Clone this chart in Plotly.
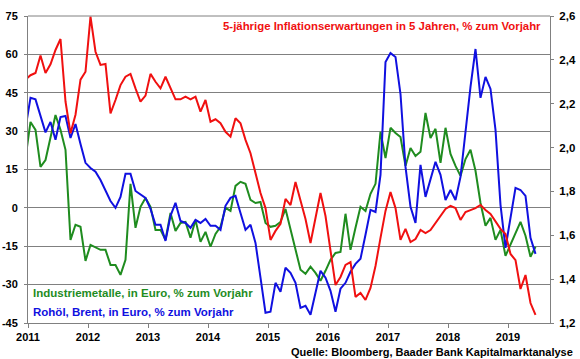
import plotly.graph_objects as go

# Monthly data, Dec 2010 .. Jun 2019 (first point is clipped by the axis start)
start_year = 2010
start_month = 12

metals = [19.5, 33.6, 30.5, 16, 18.7, 27.3, 36.3, 30.5, 22.7, -12.5, -6.6, -7.4, -20.7,
          -14.5, -15.6, -16.4, -16.4, -22.3, -22.3, -26.2, -20.3, 9.4, -7.8, 0.4, 3.9,
          0.4, -8.6, -8.6, -12.5, -2, -9, -5.9, -5.5, -11.7, -4.7, -13.3, -9.4,
          -15.2, -10.2, -7.4, 0, -1.2, 8.6, 10.2, 9.4, 3.1, 1.9, 2.3, -5.9,
          -7.4, -7, -5.5, -0.4, -8.6, -16.4, -24.2, -25.8, -23, -25.4, -28.5, -24.6,
          -20.3, -17.6, -17.2, -2.3, -16.4, -7.8, 0.4, -1.2, 5.5, 9.4, 29.7, 19.5,
          31.3, 29.3, 27.7, 16.4, 23.4, 20.3, 21.9, 37.1, 27.3, 30.9, 17.6, 31.3,
          21.1, 16.4, 12.5, 19.1, 22.7, 14.5, 1.9, -7, -3.9, -12.5, -8.6, -18.75,
          -14.5, -9.8, -5.5, -10.9, -19.1, -15.2]

brent = [31.3, 43.0, 42.4, 35.9, 29.5, 33.6, 26.6, 35.5, 35.9, 27.3, 32.8, 25, 17.6,
         15.6, 14.1, 10.9, 7, 2.7, 0, 4.3, 13.3, 13.3, 6.6, 5.1, 3.9,
         -0.4, -6.6, -6.6, -12.9, -3.1, 2, -5.1, -5.9, -7.8, -4.7, -5.9, -4.3,
         -7, -7, -8.6, 0.8, 3.9, 4.7, -2, -8.6, -6.6, -13.7, -27.3, -41,
         -40.6, -29.3, -32.8, -23.4, -25.4, -29.3, -39.1, -38.3, -41.8, -32.8, -24.6, -27.3,
         -32.4, -40.6, -31.6, -29.3, -25, -21.9, -19.9, -10.5, -0.8, -1.6, 12.9, 57,
         60.5, 59, 44.5, 16, 0.4, -5.9, 16.8, 4.3, 11.7, 18, 12.9, 3.1,
         7, 3.1, 12.1, 30.5, 47.3, 62.1, 43, 51.2, 46.5, 30.5, 1.2, -15.6,
         -4.7, 7.8, 7, 4.7, -11.7, -18]

inflation = [2.31, 2.33, 2.34, 2.42, 2.34, 2.38, 2.445, 2.495, 2.21, 2.065, 2.15, 2.31, 2.346,
             2.597, 2.437, 2.377, 2.381, 2.156, 2.217, 2.285, 2.323, 2.336, 2.27, 2.209, 2.237,
             2.336, 2.30, 2.27, 2.323, 2.27, 2.22, 2.22, 2.232, 2.22, 2.232, 2.164, 2.217,
             2.118, 2.129, 2.111, 2.072, 2.05, 2.134, 2.111, 2.035, 1.974, 1.883, 1.793, 1.724,
             1.579, 1.62, 1.652, 1.766, 1.738, 1.843, 1.756, 1.674, 1.565, 1.683, 1.793, 1.688,
             1.533, 1.373, 1.41, 1.465, 1.478, 1.319, 1.337, 1.305, 1.36, 1.46, 1.588, 1.711,
             1.797, 1.724, 1.579, 1.629, 1.569, 1.583, 1.624, 1.61, 1.624, 1.656, 1.693, 1.72,
             1.734, 1.724, 1.67, 1.706, 1.715, 1.724, 1.738, 1.715, 1.697, 1.665, 1.629, 1.606,
             1.515, 1.487, 1.355, 1.419, 1.291, 1.237]

year_ticks = [2011, 2012, 2013, 2014, 2015, 2016, 2017, 2018, 2019]
left_ticks = [-45, -30, -15, 0, 15, 30, 45, 60, 75]
left_labels = ["-45", "-30", "-15", "0", "15", "30", "45", "60", "75"]
right_ticks = [1.2, 1.4, 1.6, 1.8, 2.0, 2.2, 2.4, 2.6]
right_labels = ["1,2", "1,4", "1,6", "1,8", "2,0", "2,2", "2,4", "2,6"]

n = len(metals)
x = [start_year + (start_month - 1 + i + 0.5) / 12 for i in range(n)]

RED = "#F01010"
GREEN = "#1F8C1F"
BLUE = "#1010E0"
GRID = "#808080"
FONT = "Liberation Sans, Arial, sans-serif"

fig = go.Figure()
fig.add_trace(go.Scatter(x=x, y=metals, mode="lines", line=dict(color=GREEN, width=2),
                         name="Industriemetalle"))
fig.add_trace(go.Scatter(x=x, y=brent, mode="lines", line=dict(color=BLUE, width=2),
                         name="Brent"))
fig.add_trace(go.Scatter(x=x, y=inflation, mode="lines", line=dict(color=RED, width=2),
                         name="Inflation", yaxis="y2"))

fig.update_layout(
    width=580, height=359,
    margin=dict(l=28, r=30, t=16, b=36, autoexpand=False),
    paper_bgcolor="white", plot_bgcolor="white",
    showlegend=False,
    font=dict(family=FONT, size=11, color="black"),
    xaxis=dict(range=[2011, 2019.7], tickvals=year_ticks, automargin=False,
               ticktext=[f"<b>{y}</b>" for y in year_ticks],
               showgrid=False, zeroline=False, showline=True, linecolor=GRID, linewidth=1,
               ticks="outside", ticklen=4, tickcolor=GRID,
               tickfont=dict(size=11, family=FONT)),
    yaxis=dict(range=[-45, 75], tickvals=left_ticks, automargin=False,
               ticktext=[f"<b>{t}</b>" for t in left_labels],
               showgrid=True, gridcolor=GRID, gridwidth=1, zeroline=False,
               showline=True, linecolor=GRID, linewidth=1,
               ticks="outside", ticklen=3, tickcolor=GRID, ticklabelstandoff=4,
               tickfont=dict(size=11, family=FONT)),
    yaxis2=dict(range=[1.2, 2.6], tickvals=right_ticks, automargin=False,
                ticktext=[f"<b>{t}</b>" for t in right_labels],
                overlaying="y", side="right", showgrid=False, zeroline=False,
                showline=True, linecolor=GRID, linewidth=1,
                ticks="outside", ticklen=3, tickcolor=GRID, ticklabelstandoff=3,
                tickfont=dict(size=11.5, family=FONT)),
)

# top border line
fig.add_shape(type="line", xref="paper", yref="paper", x0=0, x1=1, y0=1, y1=1,
              line=dict(color=GRID, width=1))

fig.add_annotation(text="<b>5-jährige Inflationserwartungen in 5 Jahren, % zum Vorjahr</b>",
                   xref="paper", yref="paper", x=1, y=1, xanchor="right", yanchor="middle",
                   xshift=-7, yshift=-10, showarrow=False,
                   font=dict(color=RED, size=11.4, family=FONT))
fig.add_annotation(text="<b>Industriemetalle, in Euro, % zum Vorjahr</b>",
                   xref="paper", yref="paper", x=0, y=0, xanchor="left", yanchor="middle",
                   xshift=3, yshift=30, showarrow=False,
                   font=dict(color=GREEN, size=11.5, family=FONT))
fig.add_annotation(text="<b>Rohöl, Brent, in Euro, % zum Vorjahr</b>",
                   xref="paper", yref="paper", x=0, y=0, xanchor="left", yanchor="middle",
                   xshift=3, yshift=11.5, showarrow=False,
                   font=dict(color=BLUE, size=11.5, family=FONT))
fig.add_annotation(text="<b>Quelle: Bloomberg, Baader Bank Kapitalmarktanalyse</b>",
                   xref="paper", yref="paper", x=1, y=0, xanchor="right", yanchor="middle",
                   xshift=25, yshift=-29, showarrow=False,
                   font=dict(color="black", size=11, family=FONT))

fig.write_html("out.html", config={"displayModeBar": False},
               post_script="document.body.style.margin='0';")
